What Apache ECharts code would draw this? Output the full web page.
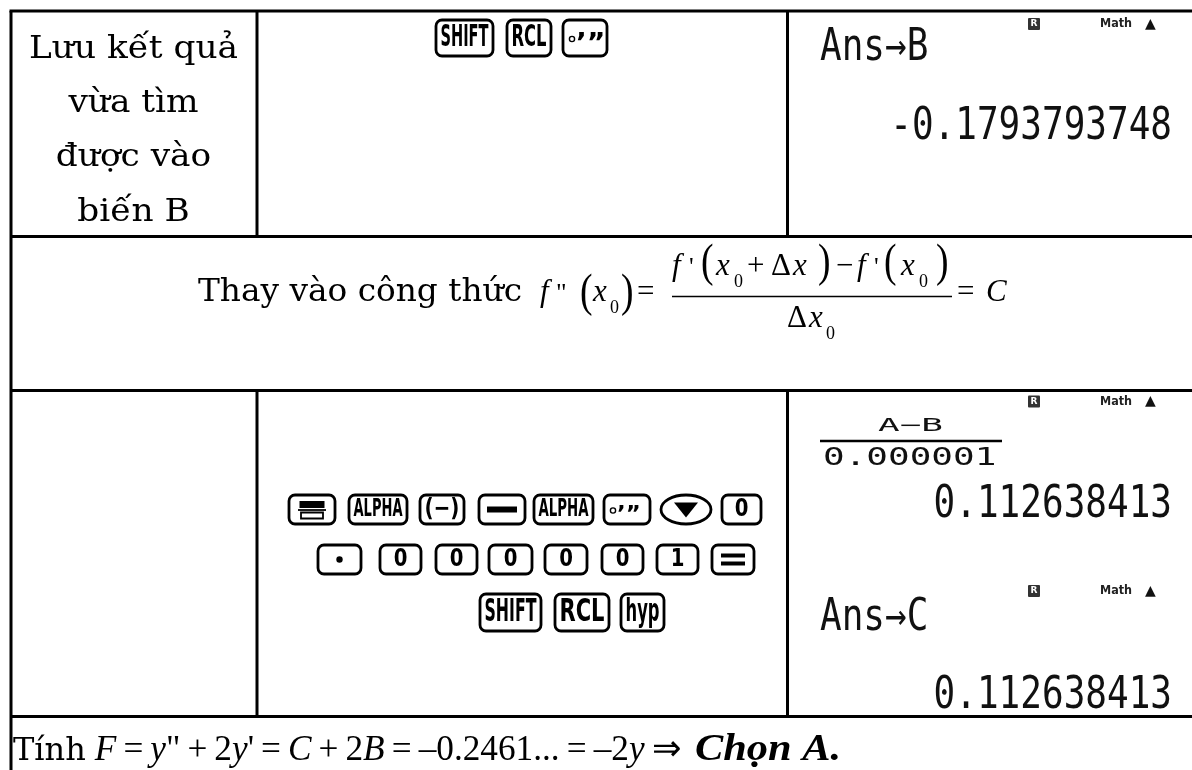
<!DOCTYPE html>
<html>
<head>
<meta charset="utf-8">
<script src="https://cdn.jsdelivr.net/npm/echarts@6/dist/echarts.min.js"></script>
<style>
html,body{margin:0;padding:0;background:#fff;}
#chart{width:1192px;height:770px;}
</style>
</head>
<body>
<div id="chart"></div>
<script>
// ---------------- content ----------------
const stepLabelLines = ['Lưu kết quả', 'vừa tìm', 'được vào', 'biến B'];
const storeKeys = ['SHIFT', 'RCL', '°’”'];
const keysRowA = ['▭', 'ALPHA', '(−)', '−', 'ALPHA', '°’”', '▼', '0'];
const keysRowB = ['·', '0', '0', '0', '0', '0', '1', '='];
const keysRowC = ['SHIFT', 'RCL', 'hyp'];
const screenTop = ['Ans→B', '-0.1793793748'];
const screenFrac = ['A−B', '0.000001'];
const screenBottom = ['0.112638413', 'Ans→C', '0.112638413'];
const indicators = ['R', 'Math', '▲'];
const formulaIntro = 'Thay vào công thức';
const formulaLhs = ['f', '"', '(', 'x', '0', ')', '='];
const formulaNum = ['f', "'", '(', 'x', '0', '+', 'Δ', 'x', ')', '−', 'f', "'", '(', 'x', '0', ')'];
const formulaDen = ['Δ', 'x', '0'];
const formulaRhs = ['=', 'C'];
const resultLead = 'Tính';
const resultMath = ['F', '\u2009=\u2009', 'y', '"\u2009+\u20092', 'y', "'\u2009=\u2009", 'C', '\u2009+\u20092', 'B',
  '\u2009=\u2009–0.2461...\u2009=\u2009–2', 'y', '\u2009⇒'];
const resultAnswer = 'Chọn A.';

// ---------------- layout ----------------
const SERIF = '"DejaVu Serif", serif';
const TIMES = '"Liberation Serif", "Times New Roman", serif';
const COND = '"DejaVu Sans Condensed", "DejaVu Sans", sans-serif';
const SANS = '"DejaVu Sans", sans-serif';
const MONO = '"DejaVu Sans Mono", monospace';
const KEY_LW = 2.8;

const mctx = document.createElement('canvas').getContext('2d');
function measure(str, font) { mctx.font = font; return mctx.measureText(str).width; }
function fontStr(fs, family, o) { o = o || {}; return (o.style || 'normal') + ' ' + (o.weight || 'normal') + ' ' + fs + 'px ' + family; }

const g = [];
function line(x1, y1, x2, y2, w) {
  g.push({type: 'line', silent: true, shape: {x1, y1, x2, y2}, style: {stroke: '#000', lineWidth: w || 3}});
}
function rect(x, y, w, h, style, r) {
  g.push({type: 'rect', silent: true, shape: {x, y, width: w, height: h, r: r || 0}, style});
}
function mid(str, x, y, fs, family, o) {
  o = o || {};
  const align = o.align || 'left';
  g.push({type: 'text', silent: true, x, y, scaleX: o.sx || 1, scaleY: o.sy || 1,
    style: {text: str, x: 0, y: o.dy || 0, font: fontStr(fs, family, o), fill: o.fill || '#000',
      align, verticalAlign: 'middle', textAlign: align, textVerticalAlign: 'middle'}});
}
function base(str, x, b, fs, family, o) {
  const k = family === TIMES ? 0.3375 : 0.346;
  mid(str, x, b - k * fs, fs, family, o);
}

// table rules
const L = 11, T = 11, R = 1192, BOT = 770;
const rowY = [236.5, 390.5, 716.5];
const colX = [257, 787.5];
line(L - 1.5, T, R, T);
line(L, T, L, BOT);
rowY.forEach(y => line(L, y, R, y));
colX.forEach(x => { line(x, T, x, rowY[0]); line(x, rowY[1], x, rowY[2]); });

// row 1, column 1 text
(function () {
  const fs = 32, f = fontStr(fs, SERIF);
  const sx = 209 / measure(stepLabelLines[0], f);
  const baselines = [61, 115, 169, 224];
  stepLabelLines.forEach((s, i) => base(s, 133.5, baselines[i], fs, SERIF, {align: 'center', sx}));
})();

// keys
function drawKey(x, y, w, h, label) {
  const cx = x + w / 2, cy = y + h / 2;
  if (label === '▼') {
    g.push({type: 'ellipse', silent: true, shape: {cx, cy, rx: w / 2, ry: h / 2}, style: {fill: '#fff', stroke: '#000', lineWidth: KEY_LW}});
    g.push({type: 'polygon', silent: true, shape: {points: [[cx - 12, cy - 7], [cx + 12, cy - 7], [cx, cy + 8]]}, style: {fill: '#000'}});
    return;
  }
  rect(x, y, w, h, {fill: '#fff', stroke: '#000', lineWidth: KEY_LW}, 6);
  if (label === '▭') {
    rect(cx - 12.5, y + 6, 25, 7, {fill: '#000'});
    line(cx - 14, y + 15, cx + 14, y + 15, 1.8);
    rect(cx - 11, y + 17.5, 22, 6, {fill: 'none', stroke: '#000', lineWidth: 1.8});
  } else if (label === '−') {
    rect(cx - 15, cy - 3, 30, 6, {fill: '#000'});
  } else if (label === '=') {
    rect(cx - 12, cy - 6, 24, 4, {fill: '#000'});
    rect(cx - 12, cy + 2, 24, 4, {fill: '#000'});
  } else if (label === '·') {
    g.push({type: 'circle', silent: true, shape: {cx, cy, r: 3.2}, style: {fill: '#000'}});
  } else if (label === '°’”') {
    g.push({type: 'circle', silent: true, shape: {cx: x + 9, cy: cy + 1, r: 2.6}, style: {fill: 'none', stroke: '#000', lineWidth: 1.4}});
    const fs = h * 0.75;
    mid(label.slice(1), x + 13, cy, fs, SANS, {weight: 'bold', dy: 0.27 * fs, sx: 1.05});
  } else if (/^[0-9]$/.test(label)) {
    const fs = h * 0.62 / 0.729;
    mid(label, cx, cy, fs, SANS, {weight: 'bold', align: 'center', sx: 0.8});
  } else {
    const fs = h * 0.62 / 0.729;
    const nat = measure(label, fontStr(fs, COND, {weight: 'bold'}));
    const sx = Math.min(1, (w - 9) / nat);
    mid(label, cx, cy, fs, COND, {weight: 'bold', align: 'center', sx});
  }
}
const storeLayout = [[436, 57], [507, 44], [563, 44]];
storeKeys.forEach((k, i) => drawKey(storeLayout[i][0], 20, storeLayout[i][1], 36, k));
const rowALayout = [[289, 46], [349, 58], [420, 44], [479, 46], [534, 59], [604, 46], [661, 50], [722, 39]];
keysRowA.forEach((k, i) => drawKey(rowALayout[i][0], 495, rowALayout[i][1], 29, k));
const rowBLayout = [[318, 43], [380, 41], [436, 41], [489, 43], [545, 42], [602, 41], [657, 41], [712, 42]];
keysRowB.forEach((k, i) => drawKey(rowBLayout[i][0], 545, rowBLayout[i][1], 29, k));
const rowCLayout = [[480, 61], [555, 54], [621, 43]];
keysRowC.forEach((k, i) => drawKey(rowCLayout[i][0], 594, rowCLayout[i][1], 37, k));

// calculator screens
const LCD_FS = 36, LCD_SY = 1.22;
function indicatorRow(cy) {
  rect(1028, cy - 6, 12, 12, {fill: '#333'}, 1);
  mid(indicators[0], 1034, cy, 9, SANS, {weight: 'bold', align: 'center', fill: '#fff'});
  const mf = fontStr(13, COND, {weight: 'bold'});
  mid(indicators[1], 1100, cy, 13, COND, {weight: 'bold', sx: 32 / measure(indicators[1], mf), fill: '#222'});
  mid(indicators[2], 1150.5, cy, 14, SANS, {align: 'center', fill: '#111'});
}
indicatorRow(24);
mid(screenTop[0], 820, 49, LCD_FS, MONO, {sy: LCD_SY, fill: '#111'});
mid(screenTop[1], 1172, 128, LCD_FS, MONO, {sy: LCD_SY, fill: '#111', align: 'right'});

indicatorRow(401.5);
mid(screenFrac[0], 910.5, 426.5, LCD_FS, MONO, {sy: 0.5, fill: '#111', align: 'center'});
line(820, 441, 1002, 441, 2.5);
mid(screenFrac[1], 823, 459, LCD_FS, MONO, {sy: 0.69, fill: '#111'});
mid(screenBottom[0], 1172, 506, LCD_FS, MONO, {sy: LCD_SY, fill: '#111', align: 'right'});
indicatorRow(591);
mid(screenBottom[1], 820, 618.5, LCD_FS, MONO, {sy: LCD_SY, fill: '#111'});
mid(screenBottom[2], 1172, 696.5, LCD_FS, MONO, {sy: LCD_SY, fill: '#111', align: 'right'});

// row 2: formula
(function () {
  const fs = 32, f = fontStr(fs, SERIF);
  base(formulaIntro, 198, 304, fs, SERIF, {sx: 324 / measure(formulaIntro, f)});
  const MF = 31, SUB = 18, PF = 47;
  function tok(str, x, b, kind) {
    if (kind === 'it') base(str, x, b, MF, TIMES, {style: 'italic'});
    else if (kind === 'rm') base(str, x, b, MF, TIMES);
    else if (kind === 'sub') base(str, x, b + 11, SUB, TIMES);
    else if (kind === 'pr') base(str, x, b, 26, TIMES);
    else if (kind === 'par') mid(str, x, b, PF, TIMES, {sx: 0.8});
  }
  const B = 303, NB = 277, DB = 329;
  const lhsX = [540, 556, 580, 593, 610, 621, 637];
  const lhsK = ['it', 'pr', 'par', 'it', 'sub', 'par', 'rm'];
  formulaLhs.forEach((s, i) => tok(s, lhsX[i], lhsK[i] === 'par' ? 294 : B, lhsK[i]));
  const numX = [672, 689, 701, 716, 734, 747, 771, 793, 818, 836, 857, 874, 884, 901, 919, 936];
  const numK = ['it', 'pr', 'par', 'it', 'sub', 'rm', 'rm', 'it', 'par', 'rm', 'it', 'pr', 'par', 'it', 'sub', 'par'];
  formulaNum.forEach((s, i) => tok(s, numX[i], numK[i] === 'par' ? 264 : NB, numK[i]));
  const denX = [787, 809, 826];
  const denK = ['rm', 'it', 'sub'];
  formulaDen.forEach((s, i) => tok(s, denX[i], DB, denK[i]));
  line(672, 296.5, 952, 296.5, 1.6);
  const rhsX = [957, 986];
  const rhsK = ['rm', 'it'];
  formulaRhs.forEach((s, i) => tok(s, rhsX[i], B, rhsK[i]));
})();

// row 4: result line
(function () {
  const b = 763;
  const fs = 32;
  base(resultLead, 13, b, fs, SERIF);
  const leadEnd = 13 + measure(resultLead, fontStr(fs, SERIF));
  const mf = 36;
  const italicIdx = [0, 2, 4, 6, 8, 10];
  let x = 0; const parts = [];
  resultMath.forEach((s, i) => {
    const o = italicIdx.includes(i) ? {style: 'italic'} : {};
    parts.push([s, x, o]);
    x += measure(s, fontStr(mf, TIMES, o));
  });
  const x0 = leadEnd + 9, x1 = 681;
  const k = (x1 - x0) / x;
  const kids = parts.map(p => ({type: 'text', silent: true, x: p[1], y: b - 0.3375 * mf,
    style: {text: p[0], x: 0, y: 0, font: fontStr(mf, TIMES, p[2]), fill: '#000', align: 'left', verticalAlign: 'middle', textAlign: 'left', textVerticalAlign: 'middle'}}));
  g.push({type: 'group', x: x0, y: 0, scaleX: k, children: kids});
  const af = 38, ao = {style: 'italic', weight: 'bold'};
  base(resultAnswer, 695, b, af, TIMES, Object.assign({sx: 146 / measure(resultAnswer, fontStr(af, TIMES, ao))}, ao));
})();

const chart = echarts.init(document.getElementById('chart'), null, {renderer: 'canvas', width: 1192, height: 770});
chart.setOption({backgroundColor: '#fff', animation: false, graphic: {elements: g}});
</script>
</body>
</html>
